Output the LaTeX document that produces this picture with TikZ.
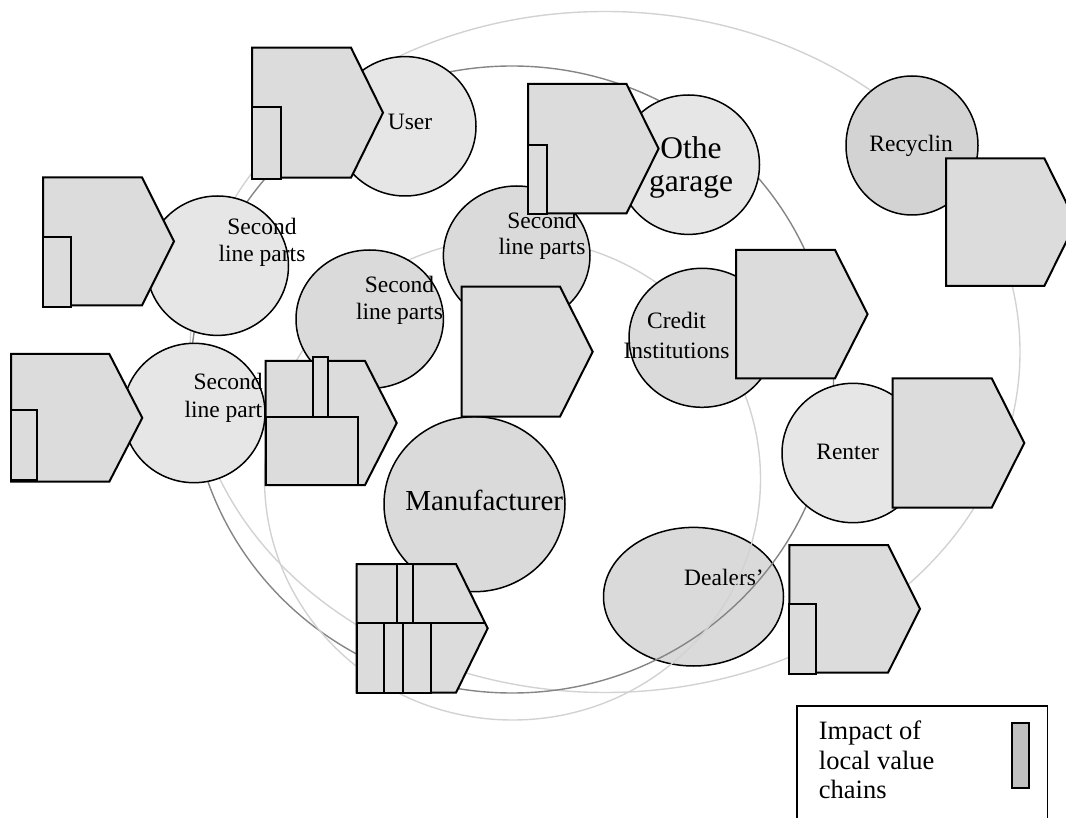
\documentclass[tikz,border=0pt]{standalone}
\usepackage{fontspec}
\setmainfont{Liberation Serif}
\usepackage{tikz}
\usetikzlibrary{calc}
\definecolor{ringlight}{HTML}{D2D2D2}
\definecolor{ringdark}{HTML}{858585}
\definecolor{pale}{HTML}{E6E6E6}
\definecolor{mid}{HTML}{DADADA}
\definecolor{boxfill}{HTML}{DCDCDC}
\definecolor{recfill}{HTML}{D3D3D3}
\definecolor{keyfill}{HTML}{C0C0C0}

\begin{document}
\begin{tikzpicture}[x=1pt,y=-1pt,
    actor/.style={draw,line width=1.5pt,fill=#1},
    chain/.style={draw,line width=2pt,fill=boxfill},
    ring/.style={draw=#1,line width=1.4pt},
    lbl/.style={anchor=base,inner sep=0pt,align=center,font=\fontsize{23.5}{26.7}\selectfont}]
    \useasboundingbox (0,0) rectangle (1066,818);
    \draw[actor=mid] (693.5,596.7) ellipse [x radius=90pt, y radius=69.3pt];
    \node[lbl] (dealers) at (724,585.7) {Dealers'};
    \draw[ring=ringlight] (605,352) ellipse [x radius=415pt, y radius=340.5pt];
    \draw[ring=ringdark] (512,379.5) ellipse [x radius=321.5pt, y radius=313.5pt];
    \draw[ring=ringlight] (512.5,479) ellipse [x radius=248pt, y radius=241pt];
    \draw[actor=pale] (405,126.3) ellipse [x radius=71pt, y radius=69.7pt];
    \node[lbl] (user) at (410,129.3) {User};
    \draw[actor=pale] (217.5,265.7) ellipse [x radius=71pt, y radius=69.7pt];
    \node[lbl] (secleft) at (262,261.7) {Second\\line parts};
    \draw[actor=pale] (194,413) ellipse [x radius=71pt, y radius=69.7pt];
    \node[lbl,anchor=base west] (seclow) at (193.3,389.3) {Second};
    \node[lbl,anchor=base west] (seclowb) at (184.3,417.3) {line part};
    \draw[actor=mid] (369.7,319.2) ellipse [x radius=73.7pt, y radius=69.2pt];
    \node[lbl] (secmid) at (399.5,319.3) {Second\\line parts};
    \draw[actor=mid] (516.7,255.5) ellipse [x radius=73.3pt, y radius=69.5pt];
    \node[lbl] (sectop) at (542,255) {Second\\line parts};
    \draw[actor=pale] (688.5,164.7) ellipse [x radius=71pt, y radius=69.7pt];
    \node[lbl,font=\fontsize{31.5}{33.4}\selectfont] (othgar) at (691,191.7) {Othe\\garage};
    \draw[actor=recfill] (912,145.5) ellipse [x radius=66pt, y radius=69.5pt];
    \node[lbl] (recyc) at (911.2,151.7) {Recyclin};
    \draw[actor=mid] (702,337.8) ellipse [x radius=73pt, y radius=69.5pt];
    \node[lbl,font=\fontsize{23.5}{30}\selectfont] (credit) at (676.5,358.3) {Credit\\Institutions};
    \draw[actor=pale] (853,453) ellipse [x radius=71pt, y radius=69.7pt];
    \node[lbl] (renter) at (847.7,459.3) {Renter};
    \draw[actor=mid] (474.5,504.2) ellipse [x radius=90.5pt, y radius=87.5pt];
    \node[lbl,font=\fontsize{29}{32}\selectfont] (manuf) at (484.2,510) {Manufacturer};
    \draw[chain] (252,47.7) -- (351,47.7) -- (383,112.7) -- (351,177.7) -- (252,177.7) -- cycle;
    \draw[chain] (252,106.7) rectangle (281,179);
    \draw[chain] (43,177.3) -- (142,177.3) -- (174,241.3) -- (142,305.3) -- (43,305.3) -- cycle;
    \draw[chain] (43,236.7) rectangle (71,306.7);
    \draw[chain] (11,354) -- (109.3,354) -- (142.3,417.9) -- (109.3,481.7) -- (11,481.7) -- cycle;
    \draw[chain] (11,410) rectangle (36.7,480);
    \draw[chain] (265.7,361) -- (365,361) -- (396.7,423) -- (365,485) -- (265.7,485) -- cycle;
    \draw[chain] (313,357) rectangle (328,417);
    \draw[chain] (265.7,417) rectangle (358,485);
    \draw[chain] (461.7,286.7) -- (560,286.7) -- (592.7,351.7) -- (560,416.7) -- (461.7,416.7) -- cycle;
    \draw[chain] (528,84) -- (626.5,84) -- (658.6,148.7) -- (626.5,213.3) -- (528,213.3) -- cycle;
    \draw[chain] (528,145) rectangle (547,214);
    \draw[chain] (736,250) -- (835,250) -- (867.6,314.2) -- (835,378.3) -- (736,378.3) -- cycle;
    \draw[chain] (946,158.3) -- (1044.3,158.3) -- (1076,222.2) -- (1044.3,286) -- (946,286) -- cycle;
    \draw[chain] (892.7,378.3) -- (991.7,378.3) -- (1024.3,443) -- (991.7,507.7) -- (892.7,507.7) -- cycle;
    \draw[chain] (789.4,545) -- (888,545) -- (920,608.9) -- (888,672.7) -- (789.4,672.7) -- cycle;
    \draw[chain] (789.4,603.7) rectangle (816,674);
    \draw[chain] (356.7,564) -- (456,564) -- (487.7,628.3) -- (456,692.7) -- (356.7,692.7) -- cycle;
    \draw[chain] (396.7,564) rectangle (412.7,622.7);
    \draw[line width=2pt] (356.7,622.7) -- (484.9,622.7);
    \draw[chain] (356.7,622.7) rectangle (383.7,692.7);
    \draw[chain] (383.7,622.7) rectangle (402.7,692.7);
    \draw[chain] (402.7,622.7) rectangle (431,692.7);
    \draw[line width=1.5pt] (797,706) rectangle (1047.7,840);
    \node[anchor=base west,inner sep=0pt,align=left,font=\fontsize{26.5}{29.2}\selectfont] (keytext) at (818.7,798.3) {Impact of\\local value\\chains};
    \draw[line width=2pt,fill=keyfill] (1011.5,722.7) rectangle (1029.4,788.3);
\end{tikzpicture}
\end{document}
